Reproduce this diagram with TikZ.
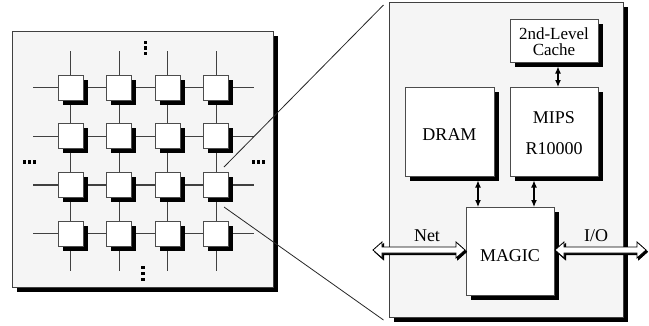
\documentclass[tikz,border=0pt]{standalone}
\usepackage{fontspec}
\setmainfont{Liberation Serif}
\usetikzlibrary{arrows.meta}

% double-headed block arrow with a drop shadow: {x-left}{x-right}{y}
\newcommand\fatdblarrow[3]{%
  \foreach \dx/\dy/\st in {1.6/1.8/arrowshadow, 0/0/arrowbody}{
    \path[\st, shift={(\dx,\dy)}]
      (#1,#3) -- (#1+9,#3-8) -- (#1+9,#3-3) -- (#2-9,#3-3) -- (#2-9,#3-8)
      -- (#2,#3) -- (#2-9,#3+8) -- (#2-9,#3+3) -- (#1+9,#3+3) -- (#1+9,#3+8) -- cycle;
  }%
}

\tikzset{
  panel/.style={draw=black!75, line width=0.9pt, fill=black!4},
  unitbox/.style={draw=black!70, line width=0.9pt, fill=white},
  shadowbox/.style={fill=black, draw=none},
  gridline/.style={draw=black!75, line width=1.1pt},
  zoomline/.style={draw=black!85, line width=0.8pt},
  link/.style={line width=1.1pt, arrows={Latex[length=7pt,width=6pt]-Latex[length=7pt,width=6pt]}},
  arrowshadow/.style={fill=black, draw=black, line width=0.8pt},
  arrowbody/.style={fill=white, draw=black, line width=0.8pt},
  lbl/.style={font=\fontsize{18}{18}\selectfont, inner sep=0pt, align=center},
  smalllbl/.style={font=\fontsize{17}{16.5}\selectfont, inner sep=0pt, align=center},
  dot/.style={fill=black, minimum size=3.2pt, inner sep=0pt, draw=none, rectangle}
}

\begin{document}
\begin{tikzpicture}[x=1pt, y=-1pt]
\useasboundingbox (0,0) rectangle (649,325);

% ---------- left panel: the mesh of nodes ----------
\fill[shadowbox] (16.5,35.5) rectangle (277.5,291.5);
\path[panel] (12,31) rectangle (273,287);

\foreach \i in {0,1,2,3}{
  \pgfmathsetmacro\cx{70.5+48.6*\i}
  \pgfmathsetmacro\cy{87.8+48.6*\i}
  \draw[gridline] (\cx,51) -- (\cx,271);
  \draw[gridline] (33,\cy) -- (254,\cy);
}
\foreach \i in {0,1,2,3}{
  \foreach \j in {0,1,2,3}{
    \pgfmathsetmacro\cx{70.5+48.6*\i}
    \pgfmathsetmacro\cy{87.8+48.6*\j}
    \fill[shadowbox] (\cx-12.5+4.5,\cy-12.5+4.5) rectangle (\cx+12.5+4.5,\cy+12.5+4.5);
    \path[unitbox] (\cx-12.5,\cy-12.5) rectangle (\cx+12.5,\cy+12.5);
    \coordinate (n\i\j) at (\cx,\cy);
  }
}

% ellipsis marks
\foreach \y [count=\k] in {42.5,48,53.5} \node[dot] (dt\k) at (145.5,\y) {};
\foreach \y [count=\k] in {267.5,273.3,279.2} \node[dot] (db\k) at (143,\y) {};
\foreach \x [count=\k] in {24.2,29.5,34.8} \node[dot] (dl\k) at (\x,162) {};
\foreach \x [count=\k] in {253.2,258.5,263.8} \node[dot] (dr\k) at (\x,162) {};

% zoom lines
\coordinate (zA) at (224,167);
\coordinate (zB) at (224,207);
\coordinate (zC) at (383.5,5);
\coordinate (zD) at (383.5,320);
\draw[zoomline] (zA) -- (zC);
\draw[zoomline] (zB) -- (zD);

% ---------- right panel: one node ----------
\fill[shadowbox] (393.5,6.5) rectangle (627.5,321.5);
\path[panel] (389.5,2) rectangle (623,317);

% component boxes
\fill[shadowbox] (514.5,23.5) rectangle (602.5,66.5);
\path[unitbox] (510,19) rectangle (598,62);
\fill[shadowbox] (409.5,91.5) rectangle (498.5,180.5);
\path[unitbox] (405,87) rectangle (494,176);
\fill[shadowbox] (514.5,91.5) rectangle (602.5,180.5);
\path[unitbox] (510,87) rectangle (598,176);
\fill[shadowbox] (470.5,211.5) rectangle (558.5,299.5);
\path[unitbox] (466,207) rectangle (554,295);

\node[smalllbl] (cache) at (554,41.5) {2nd-Level\\Cache};
\node[lbl] (dram) at (449.5,134.5) {DRAM};
\node[lbl] (mips1) at (554,118) {MIPS};
\node[lbl] (mips2) at (554,149) {R10000};
\node[lbl] (magic) at (510,256) {MAGIC};

% internal links (they start below the drop shadows)
\coordinate (cacheS) at (558,66.5);
\coordinate (mipsN) at (558,87);
\coordinate (dramS) at (478,180.5);
\coordinate (magicNW) at (478,207);
\coordinate (mipsS) at (534,180.5);
\coordinate (magicNE) at (534,207);
\draw[link] (cacheS) -- (mipsN);
\draw[link] (dramS) -- (magicNW);
\draw[link] (mipsS) -- (magicNE);

% external ports
\fatdblarrow{373}{465}{250}
\fatdblarrow{555}{646}{250}
\node[lbl] (net) at (427,236) {Net};
\node[lbl] (io) at (596,236) {I/O};
\end{tikzpicture}
\end{document}
